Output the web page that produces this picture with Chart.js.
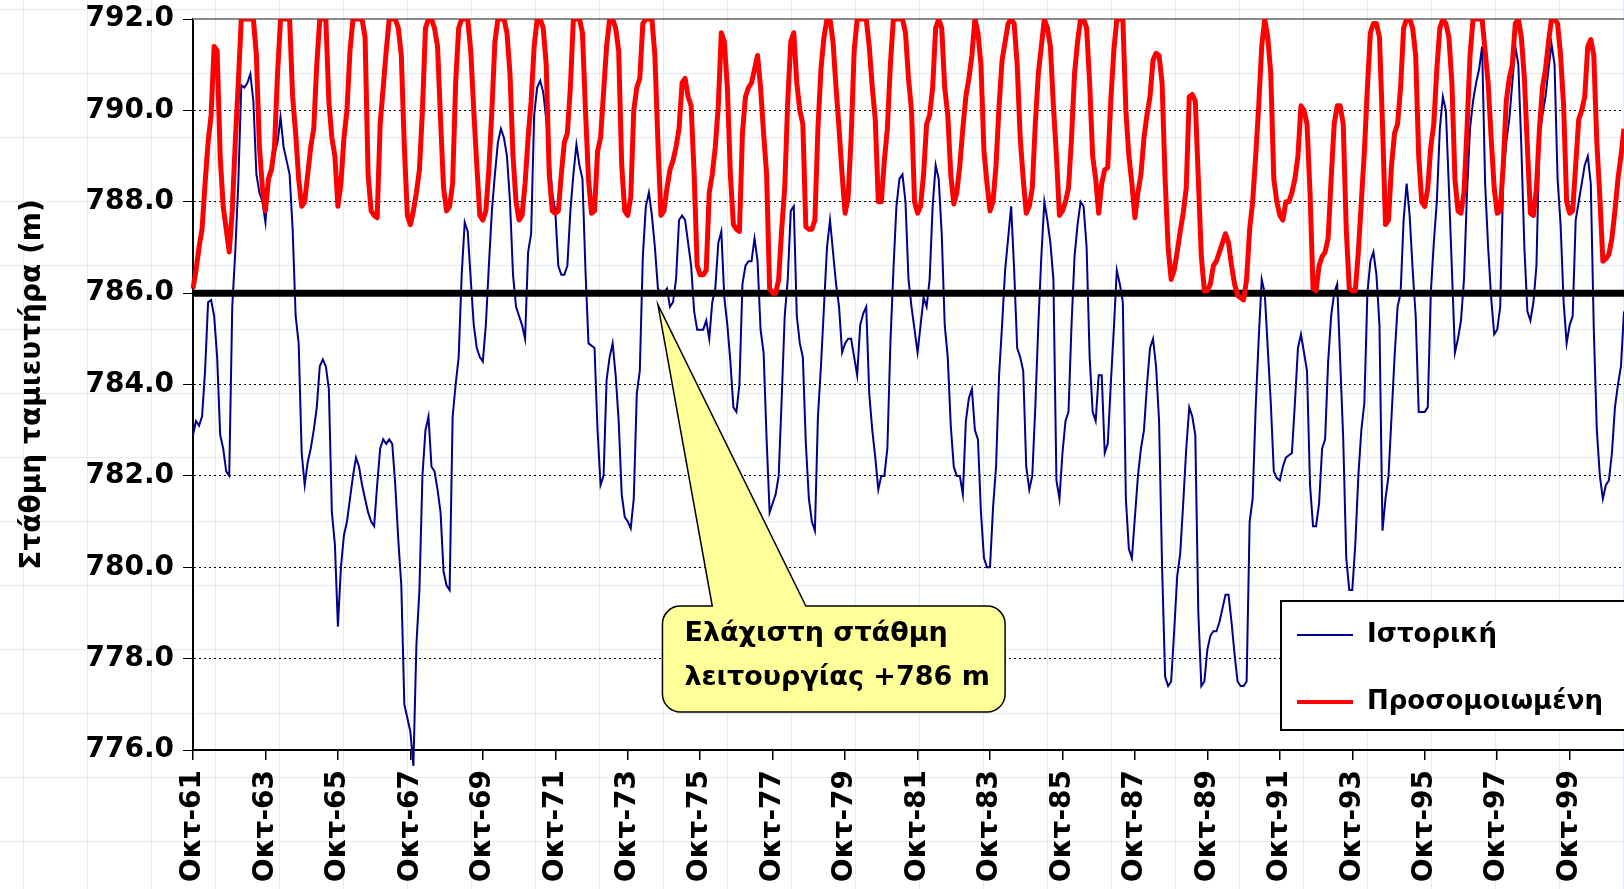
<!DOCTYPE html>
<html lang="el">
<head>
<meta charset="utf-8">
<title>Στάθμη ταμιευτήρα</title>
<script src="https://cdn.jsdelivr.net/npm/chart.js@4.4.1/dist/chart.umd.min.js"></script>
<style>
  html, body { margin: 0; padding: 0; }
  body {
    width: 1624px; height: 889px; overflow: hidden; background-color: #fff;
    background-image:
      linear-gradient(to right, #e3eaf7 1px, transparent 1px),
      linear-gradient(to bottom, #e3eaf7 1px, transparent 1px);
    background-size: 64px 64px;
    background-position: 23px 9px;
  }
  canvas { display: block; }
</style>
</head>
<body>
<canvas id="graficoStathmi" width="1624" height="889"></canvas>
<script>
// μήνες υδρολογικού έτους (Οκτ - Σεπ), πρώτος μήνας Οκτ-61
const MONTHS = ['Οκτ', 'Νοε', 'Δεκ', 'Ιαν', 'Φεβ', 'Μαρ', 'Απρ', 'Μαϊ', 'Ιουν', 'Ιουλ', 'Αυγ', 'Σεπ'];
const START_YEAR = 1961;
const TICK_EVERY = 24; // ετικέτα κάθε 2 χρόνια

const Y_MIN = 776, Y_MAX = 792, Y_STEP = 2;
const MIN_LEVEL = 786; // ελάχιστη στάθμη λειτουργίας

// Ιστορική στάθμη (m), μηνιαία, μία γραμμή ανά υδρολογικό έτος
const historical = [
  782.9, 783.2, 783.1, 783.3, 784.3, 785.8, 785.85, 785.5, 784.6, 782.9, 782.6, 782.1,
  782.0, 785.7, 786.9, 788.4, 790.55, 790.5, 790.6, 790.8, 790.2, 788.6, 788.2, 788.0,
  787.55, 788.6, 788.8, 789.05, 789.3, 789.85, 789.2, 788.9, 788.6, 787.4, 785.5, 784.9,
  782.5, 781.8, 782.3, 782.6, 783.0, 783.5, 784.4, 784.55, 784.4, 783.9, 781.2, 780.5,
  778.7, 780.0, 780.7, 781.0, 781.5, 782.0, 782.4, 782.2, 781.8, 781.5, 781.2, 781.0,
  780.9, 781.8, 782.6, 782.8, 782.7, 782.8, 782.7, 781.8, 780.6, 779.6, 777.0, 776.7,
  776.4, 775.65, 778.3, 779.5, 782.0, 783.0, 783.3, 782.2, 782.1, 781.7, 781.2, 779.9,
  779.6, 779.5, 783.3, 784.0, 784.6, 786.4, 787.55, 787.35, 786.3, 785.3, 784.8, 784.6,
  784.5, 785.3, 786.6, 787.8, 788.6, 789.3, 789.6, 789.4, 789.0, 788.0, 786.4, 785.7,
  785.5, 785.3, 785.0, 786.9, 787.3, 789.9, 790.5, 790.65, 790.4, 789.8, 789.0, 788.2,
  787.8, 786.6, 786.4, 786.4, 786.6, 787.8, 788.6, 789.25, 788.8, 788.5, 786.5, 784.9,
  784.85, 784.8, 783.0, 781.8, 782.0, 784.1, 784.6, 784.9, 784.2, 783.2, 781.6, 781.1,
  781.0, 780.85, 781.5, 783.8, 784.3, 786.8, 787.9, 788.2, 787.7, 787.0, 786.1, 786.0,
  786.0, 786.1, 785.7, 785.8, 786.3, 787.6, 787.7, 787.6, 787.1, 786.6, 785.6, 785.2,
  785.2, 785.2, 785.4, 785.0, 785.8, 786.1, 787.1, 787.35, 785.9, 785.3, 784.5, 783.5,
  783.4, 784.0, 786.2, 786.6, 786.7, 786.7, 787.2, 786.7, 785.2, 784.7, 782.8, 781.2,
  781.4, 781.6, 782.0, 783.7, 785.5, 786.3, 787.8, 787.9, 785.5, 784.9, 784.6, 782.7,
  781.5, 781.0, 780.8, 783.3, 784.4, 785.7, 787.0, 787.6, 786.9, 786.2, 785.7, 784.7,
  784.9, 785.0, 785.0, 784.6, 784.2, 785.3, 785.55, 785.7, 783.8, 783.0, 782.4, 781.7,
  782.0, 782.0, 782.6, 784.9, 786.5, 787.9, 788.5, 788.6, 788.0, 786.3, 785.7, 785.2,
  784.7, 785.3, 785.9, 785.7, 786.3, 787.9, 788.8, 788.5, 787.3, 785.3, 784.6, 783.1,
  782.2, 782.0, 782.0, 781.6, 783.2, 783.7, 783.9, 783.0, 782.8, 781.2, 780.2, 780.0,
  780.0, 781.3, 782.2, 784.2, 785.3, 786.5, 787.2, 787.9, 786.5, 784.8, 784.6, 784.3,
  782.2, 781.7, 782.0, 783.5, 785.3, 786.8, 788.0, 787.6, 787.1, 786.3, 781.9, 781.5,
  782.5, 783.2, 783.4, 785.3, 786.8, 787.5, 788.0, 787.9, 787.0, 784.6, 783.4, 783.2,
  784.2, 784.2, 782.5, 782.7, 784.0, 785.2, 786.5, 786.2, 785.8, 781.5, 780.4, 780.2,
  781.1, 782.0, 782.6, 783.0, 784.0, 784.8, 785.0, 784.4, 783.2, 780.0, 777.6, 777.4,
  777.5, 778.6, 779.8, 780.3, 781.4, 782.6, 783.5, 783.3, 782.9, 779.0, 777.4, 777.5,
  778.2, 778.5, 778.6, 778.6, 778.8, 779.1, 779.4, 779.4, 778.8, 778.1, 777.5, 777.4,
  777.4, 777.5, 781.0, 781.5, 783.5, 785.0, 786.3, 786.0, 784.8, 783.6, 782.1, 781.95,
  781.9, 782.2, 782.4, 782.45, 782.5, 783.6, 784.8, 785.1, 784.7, 784.3, 781.8, 780.9,
  780.9, 781.4, 782.6, 782.8, 784.5, 785.5, 786.0, 786.2, 784.5, 782.8, 780.2, 779.5,
  779.5, 780.5, 782.0, 783.0, 783.6, 786.0, 786.7, 786.9, 786.4, 785.3, 780.8, 781.5,
  782.0, 783.3, 784.6, 785.7, 786.0, 787.6, 788.4, 787.7, 786.5, 785.5, 783.4, 783.4,
  783.4, 783.5, 786.0, 787.1, 788.0, 789.6, 790.3, 790.0, 788.3, 786.5, 784.7, 785.0,
  785.4, 786.3, 788.2, 789.6, 790.2, 790.6, 790.9, 791.4, 788.4, 787.0, 785.9, 785.1,
  785.2, 785.7, 788.5, 789.3, 789.8, 790.6, 791.4, 791.0, 789.2, 787.0, 785.6, 785.4,
  785.8, 786.6, 789.4, 789.9, 790.3, 790.9, 791.45, 791.0, 788.5, 787.5, 785.8, 784.9,
  785.3, 785.5, 787.6, 788.0, 788.4, 788.8, 789.0, 788.4, 785.2, 783.0, 782.0, 781.5,
  781.8, 781.9, 782.5, 783.5, 784.0, 784.4, 785.6
];

// Προσομοιωμένη στάθμη (m), μηνιαία
const simulated = [
  786.1, 786.5, 787.0, 787.4, 788.4, 789.3, 789.9, 791.4, 791.3, 789.0, 787.9, 787.4,
  786.9, 787.8, 789.3, 790.6, 792, 792, 792, 792, 792, 791.2, 789.2, 788.3,
  787.8, 788.5, 788.7, 789.2, 790.8, 792, 792, 792, 792, 790.3, 789.5, 788.5,
  787.9, 788.0, 788.6, 789.2, 789.6, 791.0, 792, 792, 792, 790.2, 789.4, 789.0,
  787.9, 788.4, 789.4, 790.0, 791.3, 792, 792, 792, 792, 791.6, 788.6, 787.8,
  787.7, 787.65, 789.7, 790.5, 791.3, 792, 792, 792, 791.8, 791.2, 789.2, 787.7,
  787.5, 787.8, 788.2, 788.7, 790.0, 791.8, 792, 792, 791.8, 791.4, 789.8, 788.3,
  787.8, 787.9, 788.4, 790.6, 791.8, 792, 792, 792, 791.3, 790.0, 788.8, 787.7,
  787.6, 787.8, 788.7, 790.0, 791.5, 792, 792, 792, 791.7, 790.8, 789.0, 788.0,
  787.6, 787.7, 788.4, 789.4, 790.2, 791.4, 792, 792, 791.8, 791.0, 788.6, 787.8,
  787.75, 787.8, 788.6, 789.3, 789.5, 790.5, 792, 792, 792, 791.7, 790.0, 788.5,
  787.75, 787.8, 789.1, 789.4, 790.4, 791.4, 792, 792, 791.8, 791.3, 788.8, 787.8,
  787.7, 788.1, 790.0, 790.5, 790.7, 791.9, 792, 792, 792, 791.2, 789.3, 787.7,
  787.8, 788.3, 788.7, 788.9, 789.2, 789.6, 790.6, 790.7, 790.3, 790.1, 788.6, 786.6,
  786.4, 786.4, 786.5, 788.2, 788.6, 789.2, 790.1, 791.7, 791.5, 790.5, 788.6, 787.5,
  787.4, 787.35, 789.5, 790.3, 790.5, 790.6, 790.9, 791.2, 790.5, 789.5, 788.6, 786.1,
  786.0, 786.0, 786.3, 787.4, 788.3, 790.2, 791.5, 791.7, 790.6, 790.0, 789.7, 787.45,
  787.4, 787.4, 787.6, 789.6, 790.9, 791.6, 792, 792, 791.5, 790.5, 789.6, 788.6,
  787.75, 788.1, 789.4, 791.3, 792, 792, 792, 792, 791.4, 790.5, 789.8, 788.0,
  788.0, 788.9, 789.6, 791.0, 792, 792, 792, 792, 791.7, 790.7, 790.0, 788.0,
  787.75, 787.9, 788.6, 789.7, 789.9, 790.5, 791.8, 792, 791.8, 790.5, 789.9, 788.6,
  787.95, 788.2, 788.8, 789.6, 790.3, 790.7, 791.2, 792, 791.7, 791.0, 789.1, 788.4,
  787.8, 788.0, 788.8, 790.1, 791.1, 791.5, 791.9, 792, 791.9, 791.0, 789.4, 788.5,
  787.75, 787.9, 788.3, 789.7, 790.8, 791.4, 792, 791.8, 791.4, 790.1, 789.0, 787.7,
  787.8, 788.0, 788.3, 789.4, 790.8, 791.5, 792, 792, 791.8, 790.6, 789.0, 788.5,
  787.75, 788.4, 788.7, 788.75, 790.2, 791.3, 792, 792, 792, 790.0, 789.0, 788.4,
  787.65, 788.2, 788.6, 789.4, 789.9, 790.3, 791.1, 791.25, 791.2, 790.6, 788.5, 787.0,
  786.3, 786.5, 786.9, 787.35, 787.75, 788.3, 790.3, 790.35, 790.2, 788.5, 786.8, 786.05,
  786.05, 786.2, 786.6, 786.7, 786.9, 787.1, 787.3, 787.1, 786.6, 786.2, 785.95, 785.9,
  785.85, 786.3, 787.4, 788.0, 789.0, 790.1, 791.4, 792, 791.6, 790.8, 788.5, 788.0,
  787.7, 787.6, 788.0, 788.0, 788.2, 788.5, 789.0, 790.1, 790.0, 789.7, 788.2, 786.1,
  786.05, 786.6, 786.8, 786.9, 787.2, 788.5, 789.7, 790.1, 790.1, 789.7, 787.4, 786.1,
  786.05, 786.05, 786.9, 788.0, 789.1, 790.5, 791.7, 791.9, 791.9, 791.6, 789.7, 787.5,
  787.6, 788.8, 789.5, 789.7, 790.5, 791.8, 792, 792, 791.8, 791.2, 789.0, 788.0,
  787.9, 788.3, 789.2, 789.7, 790.9, 791.8, 792, 791.9, 791.6, 790.6, 788.5, 787.8,
  787.75, 788.2, 789.6, 791.2, 792, 792, 792, 792, 791.3, 790.6, 789.4, 788.3,
  787.75, 787.8, 788.8, 790.2, 790.7, 791.0, 791.9, 792, 791.6, 790.7, 789.2, 787.75,
  787.7, 788.3, 789.6, 790.5, 790.9, 791.5, 792, 792, 791.9, 791.2, 790.1, 788.0,
  787.75, 787.8, 788.8, 789.8, 790.0, 790.3, 791.4, 791.55, 791.2, 789.3, 788.1, 786.7,
  786.75, 786.85, 787.2, 787.8, 788.5, 789.0, 789.6
];

const labels = historical.map((_, i) => {
  const year = START_YEAR + Math.floor((i + 9) / 12);
  return MONTHS[i % 12] + '-' + String(year).slice(2);
});

const FONT = '"DejaVu Sans", Verdana, sans-serif';
Chart.defaults.font.family = FONT;
Chart.defaults.font.weight = 'bold';
Chart.defaults.color = '#000';

// Παχιά μαύρη γραμμή στα 786 m, πάνω από την ιστορική
const minLevelLine = {
  id: 'minLevelLine',
  afterDatasetDraw(chart, args) {
    if (args.index !== 0) return;
    const { ctx, chartArea, scales: { y } } = chart;
    const py = y.getPixelForValue(MIN_LEVEL);
    ctx.save();
    ctx.strokeStyle = '#000';
    ctx.lineWidth = 7;
    ctx.beginPath();
    ctx.moveTo(chartArea.left, py);
    ctx.lineTo(chartArea.right, py);
    ctx.stroke();
    ctx.restore();
  }
};

// γκρι πάνω περίγραμμα περιοχής σχεδίασης
const topBorder = {
  id: 'topBorder',
  beforeDatasetsDraw(chart) {
    const { ctx, chartArea } = chart;
    ctx.save();
    ctx.strokeStyle = '#8a8a8a';
    ctx.lineWidth = 2;
    ctx.beginPath();
    ctx.moveTo(chartArea.left, chartArea.top);
    ctx.lineTo(chartArea.right, chartArea.top);
    ctx.stroke();
    ctx.restore();
  }
};

// Κίτρινο σχόλιο με βέλος προς τη γραμμή ελάχιστης στάθμης
const callout = {
  id: 'callout',
  afterDraw(chart) {
    const { ctx, scales: { x, y } } = chart;
    const tipX = x.getPixelForValue(154), tipY = y.getPixelForValue(785.75);
    const x1 = x.getPixelForValue(155.5), x2 = x.getPixelForValue(269);
    const y1 = y.getPixelForValue(779.15), y2 = y.getPixelForValue(776.83);
    const b1 = x.getPixelForValue(172), b2 = x.getPixelForValue(203);
    const r = 18;
    ctx.save();
    ctx.beginPath();
    ctx.moveTo(x1 + r, y1);
    ctx.lineTo(b1, y1);
    ctx.lineTo(tipX, tipY);
    ctx.lineTo(b2, y1);
    ctx.lineTo(x2 - r, y1);
    ctx.arcTo(x2, y1, x2, y1 + r, r);
    ctx.lineTo(x2, y2 - r);
    ctx.arcTo(x2, y2, x2 - r, y2, r);
    ctx.lineTo(x1 + r, y2);
    ctx.arcTo(x1, y2, x1, y2 - r, r);
    ctx.lineTo(x1, y1 + r);
    ctx.arcTo(x1, y1, x1 + r, y1, r);
    ctx.closePath();
    ctx.fillStyle = '#ffff99';
    ctx.fill();
    ctx.strokeStyle = '#000';
    ctx.lineWidth = 1.5;
    ctx.stroke();
    ctx.fillStyle = '#000';
    ctx.font = 'bold 27px ' + FONT;
    ctx.textBaseline = 'middle';
    ctx.fillText('Ελάχιστη στάθμη', x1 + 22, y1 + 28);
    ctx.fillText('λειτουργίας +786 m', x1 + 22, y1 + 72);
    ctx.restore();
  }
};

// Υπόμνημα σε πλαίσιο κάτω δεξιά
const boxLegend = {
  id: 'boxLegend',
  afterDraw(chart) {
    const { ctx, chartArea } = chart;
    const left = chartArea.right - 343, top = chartArea.bottom - 149;
    ctx.save();
    ctx.fillStyle = '#fff';
    ctx.fillRect(left, top, 360, 129);
    ctx.strokeStyle = '#000';
    ctx.lineWidth = 2;
    ctx.strokeRect(left, top, 360, 129);
    ctx.font = 'bold 26px ' + FONT;
    ctx.textBaseline = 'middle';
    chart.data.datasets.forEach((ds, i) => {
      const ly = top + 34 + i * 67;
      ctx.strokeStyle = ds.borderColor;
      ctx.lineWidth = i === 0 ? 2 : 4;
      ctx.beginPath();
      ctx.moveTo(left + 16, ly);
      ctx.lineTo(left + 72, ly);
      ctx.stroke();
      ctx.fillStyle = '#000';
      ctx.fillText(ds.label, left + 86, ly);
    });
    ctx.restore();
  }
};

const ctx = document.getElementById('graficoStathmi').getContext('2d');
new Chart(ctx, {
  type: 'line',
  data: {
    labels: labels,
    datasets: [{
      label: 'Ιστορική',
      data: historical,
      borderColor: '#00008b',
      borderWidth: 2,
      pointRadius: 0,
      order: 2,
      clip: false
    }, {
      label: 'Προσομοιωμένη',
      data: simulated,
      borderColor: '#ff0000',
      borderWidth: 5,
      borderJoinStyle: 'round',
      pointRadius: 0,
      order: 1
    }]
  },
  options: {
    responsive: false,
    animation: false,
    layout: { padding: { top: 19, right: 0, bottom: 0, left: 0 } },
    plugins: { legend: { display: false }, tooltip: { enabled: false } },
    scales: {
      x: {
        grid: {
          drawOnChartArea: false,
          tickLength: 10,
          lineWidth: 1.5,
          color: c => (c.index % TICK_EVERY === 0 ? '#000' : 'transparent'),
          tickColor: c => (c.index % TICK_EVERY === 0 ? '#000' : 'transparent')
        },
        border: { color: '#000', width: 2 },
        ticks: {
          autoSkip: false,
          minRotation: 90,
          maxRotation: 90,
          padding: 10,
          font: { size: 28, weight: 'bold' },
          callback: (v, i) => (i % TICK_EVERY === 0 ? labels[i] : '')
        },
        afterFit: s => { s.height = 139; s.paddingLeft = 0; s.paddingRight = 0; }
      },
      y: {
        min: Y_MIN,
        max: Y_MAX,
        ticks: {
          stepSize: Y_STEP,
          padding: 9,
          font: { size: 28, weight: 'bold' },
          callback: v => v.toFixed(1)
        },
        grid: {
          color: c => (c.tick && c.tick.value === Y_MAX ? 'transparent' : '#000'),
          tickColor: '#000',
          tickLength: 10,
          lineWidth: 1
        },
        border: { color: '#000', width: 2, dash: [2, 3] },
        title: {
          display: true,
          text: 'Στάθμη ταμιευτήρα (m)',
          font: { size: 28, weight: 'bold' },
          padding: { top: 16, bottom: 0 }
        },
        afterFit: s => { s.width = 193; s.paddingTop = 0; s.paddingBottom = 0; }
      }
    }
  },
  plugins: [topBorder, minLevelLine, callout, boxLegend]
});
</script>
</body>
</html>
